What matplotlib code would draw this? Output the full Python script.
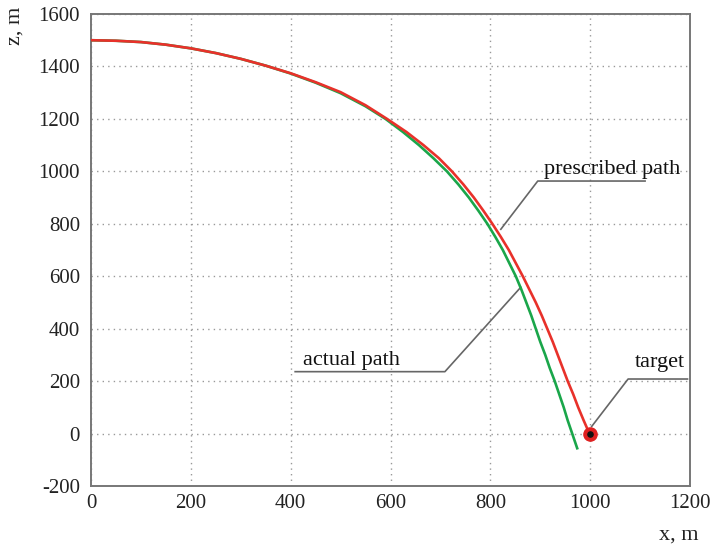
import matplotlib
matplotlib.use("Agg")
import matplotlib.pyplot as plt

# Prescribed path (red)
prescribed_x = [0, 50, 100, 150, 200, 250, 300, 350, 400, 450, 500, 550, 593, 632, 666, 697, 723, 746, 767, 786,
                804, 821, 837, 851, 865, 878, 891, 903, 914, 925, 935, 945, 955, 966, 976, 987, 998]
prescribed_z = [1500, 1498, 1493, 1483, 1469, 1451, 1429, 1403, 1374, 1340, 1302, 1252, 1200, 1150, 1100, 1050, 1000, 950, 900, 850,
                800, 750, 700, 650, 600, 550, 500, 450, 400, 350, 300, 250, 200, 150, 100, 50, 2]

# Actual path (green)
actual_x = [0, 50, 100, 150, 200, 250, 300, 350, 400, 450, 500, 550, 590, 625, 657, 686, 713, 736, 757, 776,
            794, 810, 825, 838, 851, 862, 872, 882, 891, 900, 910, 919, 929, 938, 947, 955, 964, 974]
actual_z = [1500, 1498, 1493, 1483, 1469, 1451, 1429, 1403, 1373, 1338, 1298, 1248, 1200, 1150, 1100, 1050, 1000, 950, 900, 850,
            800, 750, 700, 650, 600, 550, 500, 450, 400, 350, 300, 250, 200, 150, 100, 50, 0, -56]

target_x = [1000]
target_z = [0]

x_ticks = [0, 200, 400, 600, 800, 1000, 1200]
y_ticks = [-200, 0, 200, 400, 600, 800, 1000, 1200, 1400, 1600]

plt.rcParams['font.family'] = ['Liberation Serif', 'DejaVu Serif']
plt.rcParams['axes.unicode_minus'] = False

fig = plt.figure(figsize=(7.18, 5.5), dpi=100)
ax = fig.add_axes([91/718, 1-486/550, (690-91)/718, (486-14)/550])

ax.set_xlim(0, 1200)
ax.set_ylim(-200, 1600)
ax.set_xticks(x_ticks)
ax.set_yticks(y_ticks)
ax.tick_params(length=0, labelsize=15, pad=8, colors='#222222')
ax.tick_params(axis='x', pad=6)
ax.grid(True, linestyle=(0, (1, 3)), color='#999999', linewidth=1.0)
for s in ax.spines.values():
    s.set_color('#777777')
    s.set_linewidth(1.4)

ax.plot(actual_x, actual_z, color='#1aa64a', linewidth=1.9, zorder=3, solid_joinstyle='round')
ax.plot(prescribed_x, prescribed_z, color='#e8312a', linewidth=1.9, zorder=4, solid_joinstyle='round')
ax.scatter(target_x, target_z, s=90, color='#e02020', zorder=5)
ax.scatter(target_x, target_z, s=14, color='#111111', zorder=6)

lc = '#666666'
# prescribed path annotation
ax.plot([821, 895, 1110], [779, 963, 963], color=lc, linewidth=1.2, zorder=2, clip_on=False)
ax.text(1044, 990, 'prescribed path', fontsize=16, ha='center', va='baseline', color='#111111')
# actual path annotation
ax.plot([861, 709, 409], [558, 236, 236], color=lc, linewidth=1.2, zorder=2, clip_on=False)
ax.text(425, 262, 'actual path', fontsize=16, ha='left', va='baseline', color='#111111')
# target annotation
ax.plot([1003, 1076, 1195], [27, 208, 208], color=lc, linewidth=1.2, zorder=2, clip_on=False)
ax.text(1140, 252, 'target', fontsize=16, ha='center', va='baseline', color='#111111')

fig.text(15/718, 1-26/550, 'z, m', rotation=90, fontsize=16, ha='center', va='center', color='#222222')
fig.text(679/718, 1-535/550, 'x, m', fontsize=16, ha='center', va='center', color='#222222')

fig.savefig('out.png', dpi=100)
